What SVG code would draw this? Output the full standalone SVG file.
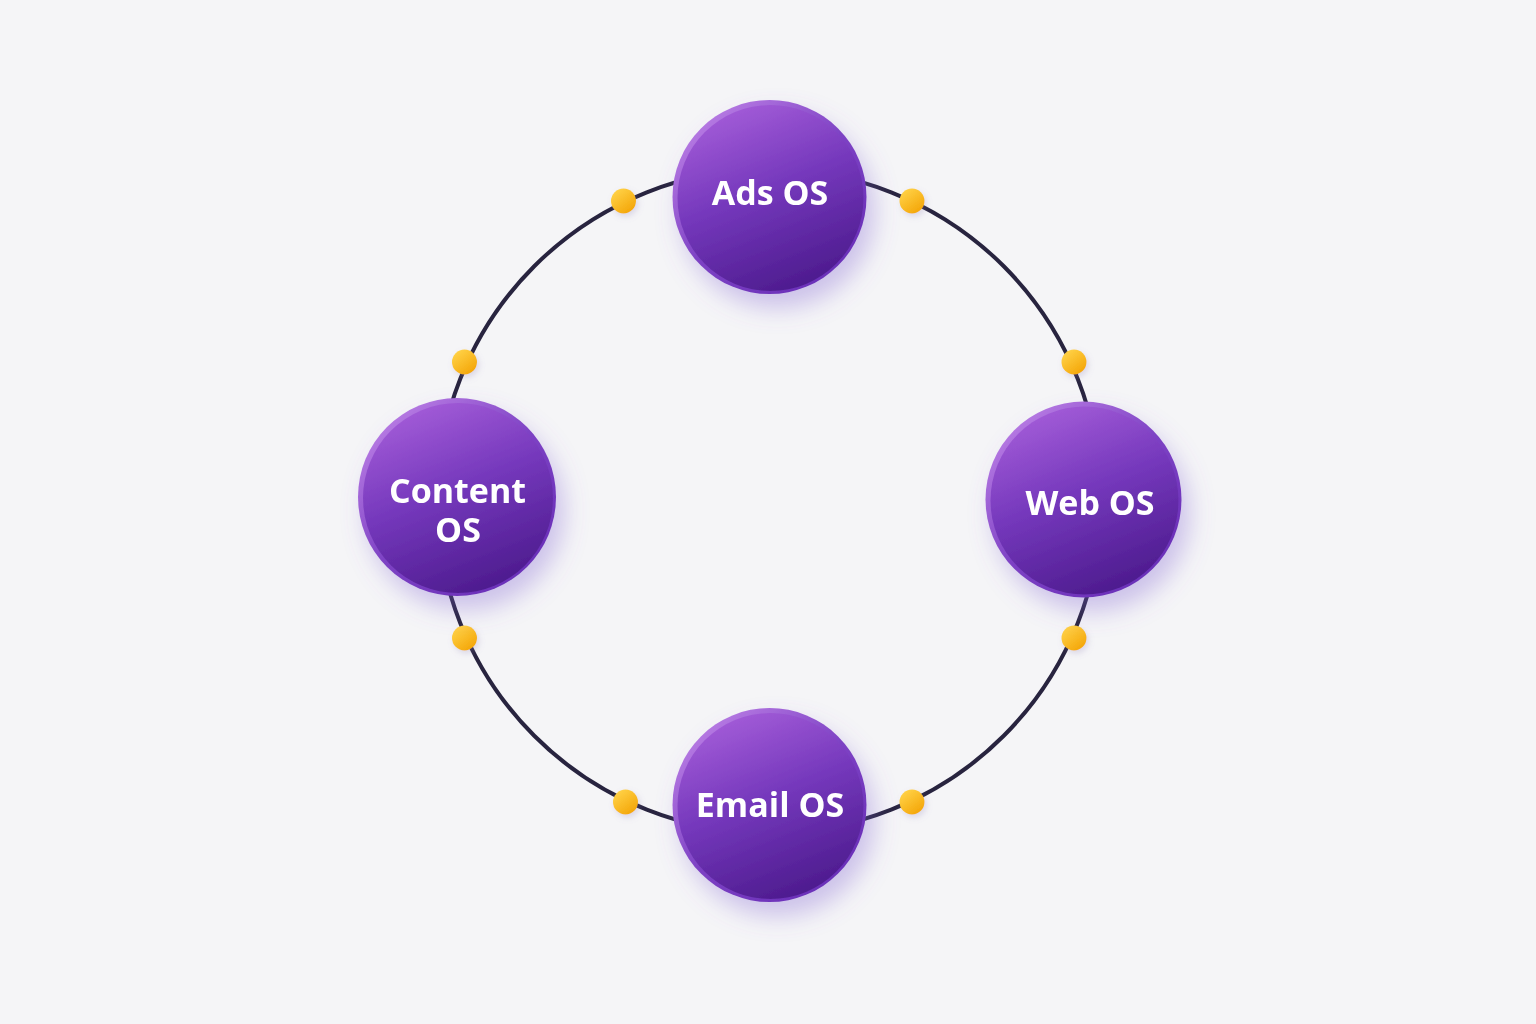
<svg xmlns="http://www.w3.org/2000/svg" width="1536" height="1024" viewBox="0 0 1536 1024">
  <defs>
    <linearGradient id="nodeGrad" x1="0.3" y1="0" x2="0.7" y2="1">
      <stop offset="0" stop-color="#a35cd8"/>
      <stop offset="0.45" stop-color="#7538bc"/>
      <stop offset="1" stop-color="#4b1a8c"/>
    </linearGradient>
    <linearGradient id="rimGrad" x1="0.15" y1="0.1" x2="0.85" y2="0.9">
      <stop offset="0" stop-color="#b77ae3"/>
      <stop offset="0.5" stop-color="#7d42c4"/>
      <stop offset="1" stop-color="#6a2fb8"/>
    </linearGradient>
    <linearGradient id="dotGrad" x1="0.2" y1="0.1" x2="0.8" y2="0.9">
      <stop offset="0" stop-color="#ffd044"/>
      <stop offset="1" stop-color="#f4a70a"/>
    </linearGradient>
    <filter id="shadow" x="-40%" y="-40%" width="180%" height="180%">
      <feGaussianBlur in="SourceAlpha" stdDeviation="12"/>
      <feOffset dx="8" dy="14" result="b"/>
      <feFlood flood-color="#7d5fd0" flood-opacity="0.35"/>
      <feComposite in2="b" operator="in"/>
      <feMerge>
        <feMergeNode/>
        <feMergeNode in="SourceGraphic"/>
      </feMerge>
    </filter>
    <filter id="dotShadow" x="-60%" y="-60%" width="220%" height="220%">
      <feGaussianBlur in="SourceAlpha" stdDeviation="3"/>
      <feOffset dx="2" dy="3" result="b"/>
      <feFlood flood-color="#8a7ab0" flood-opacity="0.25"/>
      <feComposite in2="b" operator="in"/>
      <feMerge>
        <feMergeNode/>
        <feMergeNode in="SourceGraphic"/>
      </feMerge>
    </filter>
  </defs>
  <style>
    .ring { fill: none; stroke: #28243f; stroke-width: 4; }
    .rim { fill: url(#rimGrad); }
    .body { fill: url(#nodeGrad); }
    .label { fill: #ffffff; font-family: "Open Sans", "Noto Sans", "DejaVu Sans", sans-serif; font-weight: 700; font-size: 34px; text-anchor: middle; }
    .dot { fill: url(#dotGrad); filter: url(#dotShadow); }
  </style>
  <rect width="1536" height="1024" fill="#f5f5f7"/>

  <g id="connectors">
    <circle class="ring" cx="769" cy="501" r="332"/>
    <circle class="dot" cx="623.5" cy="201" r="12.5"/>
    <circle class="dot" cx="912" cy="201" r="12.5"/>
    <circle class="dot" cx="464.5" cy="362" r="12.5"/>
    <circle class="dot" cx="1074" cy="362" r="12.5"/>
    <circle class="dot" cx="464.5" cy="638" r="12.5"/>
    <circle class="dot" cx="1074" cy="638" r="12.5"/>
    <circle class="dot" cx="625.5" cy="802" r="12.5"/>
    <circle class="dot" cx="912" cy="802" r="12.5"/>
  </g>

  <g id="node-ads" filter="url(#shadow)">
    <circle class="rim" cx="769.5" cy="197" r="97"/>
    <circle class="body" cx="770.5" cy="198" r="93"/>
    <text class="label" x="770" y="205">Ads OS</text>
  </g>

  <g id="node-web" filter="url(#shadow)">
    <circle class="rim" cx="1083.5" cy="499.5" r="98"/>
    <circle class="body" cx="1084.5" cy="500.5" r="94"/>
    <text class="label" x="1090" y="515">Web OS</text>
  </g>

  <g id="node-email" filter="url(#shadow)">
    <circle class="rim" cx="769.5" cy="805" r="97"/>
    <circle class="body" cx="770.5" cy="806" r="93"/>
    <text class="label" x="770" y="817">Email OS</text>
  </g>

  <g id="node-content" filter="url(#shadow)">
    <circle class="rim" cx="457" cy="497" r="99"/>
    <circle class="body" cx="458" cy="498" r="95"/>
    <text class="label"><tspan x="457.5" y="503">Content</tspan><tspan x="458" y="542">OS</tspan></text>
  </g>
</svg>
